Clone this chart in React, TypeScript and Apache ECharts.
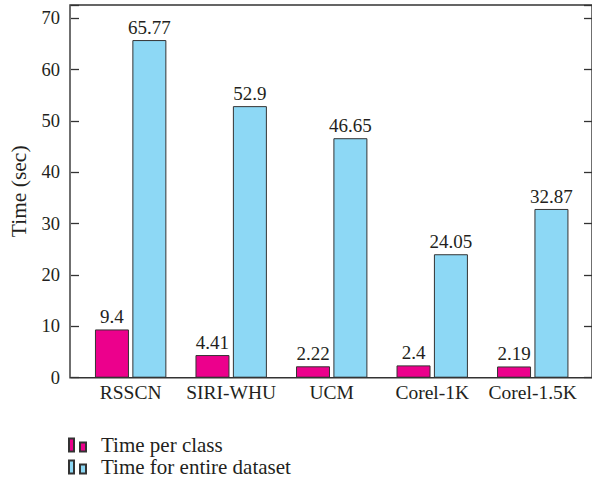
import React, { useEffect, useRef } from "react";
import * as echarts from "echarts";

const categories = ["RSSCN", "SIRI-WHU", "UCM", "Corel-1K", "Corel-1.5K"];
const timePerClass = [9.4, 4.41, 2.22, 2.4, 2.19];
const timeEntire = [65.77, 52.9, 46.65, 24.05, 32.87];
const seriesNames = ["Time per class", "Time for entire dataset"];
const yAxisTitle = "Time (sec)";

const FONT = "'Liberation Serif', 'DejaVu Serif', serif";
const TXT = "#231f20";

export default function App() {
  const ref = useRef<HTMLDivElement>(null);
  useEffect(() => {
    if (!ref.current) return;
    const chart = echarts.init(ref.current, undefined, { renderer: "svg" });
    const iconPath = "path://M0,0H5V13H0Z M11,4H17V13H11Z";
    chart.setOption({
      animation: false,
      textStyle: { fontFamily: FONT, color: TXT },
      grid: { left: 79.4, right: 9, top: 5, bottom: 105.3, containLabel: false },
      legend: {
        orient: "vertical",
        left: 68,
        top: 434.5,
        padding: 0,
        itemWidth: 17,
        itemHeight: 13,
        itemGap: 1,
        icon: iconPath,
        textStyle: { fontFamily: FONT, fontSize: 21, lineHeight: 16, color: TXT, padding: [0, 0, 0, 10] },
        data: [
          { name: seriesNames[0], icon: iconPath },
          { name: seriesNames[1], icon: iconPath },
        ],
      },
      graphic: [
        {
          type: "rect",
          shape: { x: 70, y: 5, width: 522, height: 372.7 },
          style: { fill: "none", stroke: "#333", lineWidth: 1.4 },
          silent: true,
          z: 10,
        },
      ],
      xAxis: {
        type: "category",
        data: categories,
        axisLine: { show: false },
        axisTick: { show: false },
        axisLabel: { interval: 0, fontFamily: FONT, fontSize: 19.5, color: TXT, margin: 5 },
      },
      yAxis: [
        {
          type: "value",
          min: 0,
          max: 72.6,
          interval: 10,
          offset: 9.4,
          position: "left",
          name: yAxisTitle,
          nameLocation: "middle",
          nameGap: 41,
          nameTextStyle: { fontFamily: FONT, fontSize: 21.5, color: TXT },
          axisLine: { show: false },
          axisTick: { show: true, inside: true, length: 8, lineStyle: { color: "#333", width: 1.3 } },
          axisLabel: {
            fontFamily: FONT,
            fontSize: 18.5,
            color: TXT,
            margin: 11,
            formatter: (v: number) => (v % 10 === 0 ? String(v) : ""),
          },
          splitLine: { show: false },
        },
        {
          type: "value",
          min: 0,
          max: 72.6,
          interval: 10,
          offset: 9,
          position: "right",
          axisLine: { show: false },
          axisTick: { show: true, inside: true, length: 8, lineStyle: { color: "#333", width: 1.3 } },
          axisLabel: { show: false },
          splitLine: { show: false },
        },
      ],
      series: [
        {
          name: seriesNames[0],
          type: "bar",
          data: timePerClass,
          barWidth: 34,
          barGap: "10%",
          itemStyle: { color: "#EC008C", borderColor: "#333", borderWidth: 1 },
          label: { show: true, position: "top", distance: 3, fontFamily: FONT, fontSize: 19, color: TXT },
        },
        {
          name: seriesNames[1],
          type: "bar",
          data: timeEntire,
          barWidth: 34,
          barGap: "10%",
          itemStyle: { color: "#8DD8F5", borderColor: "#333", borderWidth: 1 },
          label: { show: true, position: "top", distance: 3, fontFamily: FONT, fontSize: 19, color: TXT },
        },
      ],
    });
    return () => chart.dispose();
  }, []);
  return (
    <div
      ref={ref}
      style={{ position: "fixed", left: 0, top: 0, width: 592, height: 483, background: "#fff" }}
    />
  );
}
